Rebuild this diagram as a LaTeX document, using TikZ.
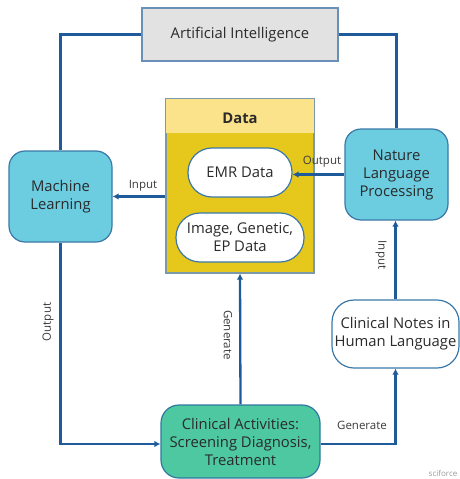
\documentclass[tikz,border=0pt]{standalone}
\usepackage{fontspec}
\setmainfont{Open Sans}
\usetikzlibrary{arrows.meta}
\definecolor{linec}{HTML}{1F5A9A}
\definecolor{boxb}{HTML}{3B78A8}
\definecolor{mlfill}{HTML}{6CCCE0}
\definecolor{cafill}{HTML}{4DC8A0}
\definecolor{aifill}{HTML}{E2E2E2}
\definecolor{aib}{HTML}{6A90B8}
\definecolor{dhead}{HTML}{FAE38A}
\definecolor{dbody}{HTML}{E6C81C}
\definecolor{dbord}{HTML}{7A9AAA}
\definecolor{txt}{HTML}{2A2A2A}
\definecolor{lbl}{HTML}{3A3A3A}
\tikzset{
  conn/.style={draw=linec, line width=2.3pt},
  arr/.style={conn, -{Latex[length=6pt,width=6.5pt]}},
  bluebox/.style={draw=boxb, line width=1.2pt, fill=mlfill, rounded corners=16pt, align=center, text=txt, font=\fontsize{14.8}{18}\selectfont, inner sep=0pt},
  pill/.style={draw=boxb, line width=1.2pt, fill=white, rounded corners=22pt, align=center, text=txt, font=\fontsize{14.8}{18}\selectfont, inner sep=0pt},
  lab/.style={text=lbl, font=\fontsize{11.5}{13}\selectfont, inner sep=1pt}
}
\begin{document}
\begin{tikzpicture}[x=1pt,y=-1pt]
\useasboundingbox (0,0) rectangle (460,479);
% AI
\node[draw=aib, line width=1.2pt, fill=aifill, minimum width=196pt, minimum height=53pt, text=txt, font=\fontsize{14.8}{18}\selectfont] (ai) at (240,34.5) {Artificial Intelligence};
% Data container
\node[draw=dbord, line width=1.2pt, fill=dbody, minimum width=148pt, minimum height=174pt, inner sep=0pt] (data) at (240,186) {};
\fill[dhead] ([xshift=0.6pt,yshift=-0.6pt]data.north west) rectangle ([xshift=-0.6pt,yshift=-35pt]data.north east);
\node[text=txt, font=\bfseries\fontsize{14.8}{18}\selectfont] (datat) at (240,118) {Data};
\node[pill, rounded corners=24pt, minimum width=104pt, minimum height=49pt] (emr) at (240,172.5) {EMR Data};
\node[pill, rounded corners=24pt, minimum width=128pt, minimum height=49pt] (img) at (240,237.5) {Image, Genetic,\\EP Data};
% side boxes
\node[bluebox, minimum width=103pt, minimum height=91pt] (ml) at (60.5,196.5) {Machine\\Learning};
\node[bluebox, minimum width=103pt, minimum height=91pt] (nlp) at (396.5,174.5) {Nature\\Language\\Processing};
\node[pill, minimum width=127pt, minimum height=68pt] (notes) at (395.5,334) {Clinical Notes in\\Human Language};
\node[bluebox, draw=boxb!80!teal, fill=cafill, rounded corners=18pt, minimum width=159pt, minimum height=73pt] (ca) at (240.5,441.5) {Clinical Activities:\\Screening Diagnosis,\\Treatment};
% connectors
\draw[conn] (ai.west) -| (ml.north);
\draw[conn] (ai.east) -| (nlp.north);
\draw[arr] (data.west |- ml.east) -- (ml.east);
\draw[arr] (nlp.west) -- (emr.east |- nlp.west);
\draw[arr] (notes.north) -- (notes.north |- nlp.south);
\draw[arr] (ca.north) -- (data.south);
\draw[arr] (ml.south) |- ([yshift=-2.5pt]ca.west);
\draw[arr] ([yshift=-2.5pt]ca.east) -| (notes.south);
% labels
\node[lab] (l1) at (143,186) {Input};
\node[lab] (l2) at (322,162) {Output};
\node[lab, rotate=-90] (l3) at (381,255) {Input};
\node[lab, rotate=-90] (l4) at (228,335) {Generate};
\node[lab, rotate=90] (l5) at (48,322) {Output};
\node[lab] (l6) at (362,425) {Generate};
\node[text=gray!80, font=\fontsize{8}{9}\selectfont] (sf) at (443,473) {sciforce};
\end{tikzpicture}
\end{document}
